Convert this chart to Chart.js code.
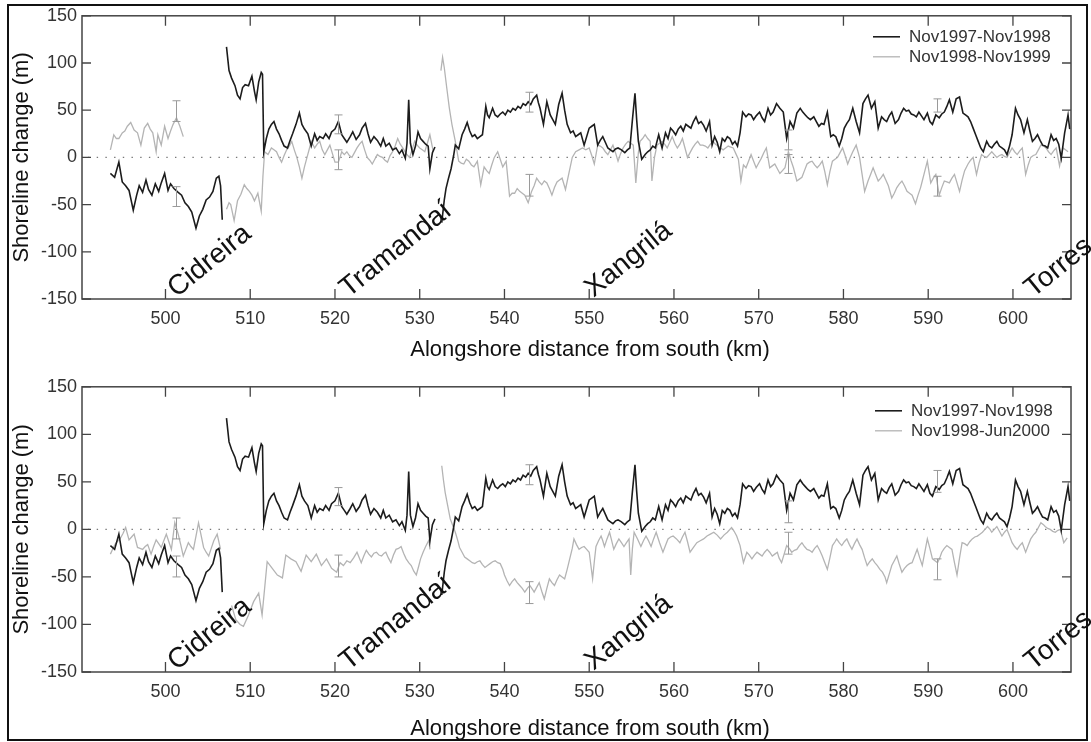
<!DOCTYPE html>
<html>
<head>
<meta charset="utf-8">
<script src="https://cdn.jsdelivr.net/npm/chart.js@4.4.1/dist/chart.umd.min.js"></script>
<style>
  html, body { margin: 0; padding: 0; background: #fff; }
  body { width: 1091px; height: 742px; position: relative; overflow: hidden; }
  #frame { position: absolute; left: 7px; top: 4px; width: 1081px; height: 737px;
           border: 2px solid #111; box-sizing: border-box; }
  canvas { position: absolute; left: 0; }
  #c1 { top: 0; }
  #c2 { top: 371px; }
</style>
</head>
<body>
<div id="frame"></div>
<canvas id="c1" width="1091" height="371"></canvas>
<canvas id="c2" width="1091" height="371"></canvas>
<script>
/* ========= Datos ========= */
const kmTicks = [500, 510, 520, 530, 540, 550, 560, 570, 580, 590, 600];
const yTicks = [-150, -100, -50, 0, 50, 100, 150];

const labelBlack = "Nov1997-Nov1998";
const labelGrayTop = "Nov1998-Nov1999";
const labelGrayBottom = "Nov1998-Jun2000";

const placeNames = ["Cidreira", "Tramandaí", "Xangrilá", "Torres"];
const placeKm = [501.3, 521.6, 550.5, 602.4];

// [km, cambio (m)] ; null = hueco
const nov97Nov98 = [
  [493.5,-17],[494.0,-21],[494.5,-5],[494.9,-26],[495.3,-30],[495.7,-35],[496.2,-56],[496.6,-40],
  [496.9,-30],[497.3,-37],[497.7,-24],[498.0,-34],[498.4,-40],[498.8,-28],[499.2,-36],[499.5,-27],
  [499.9,-17],[500.3,-35],[500.6,-28],[501.0,-33],[501.5,-37],[501.9,-40],[502.3,-48],[502.7,-52],
  [503.1,-58],[503.6,-75],[504.0,-62],[504.4,-55],[504.8,-45],[505.2,-42],[505.6,-36],[506.0,-22],
  [506.3,-20],[506.5,-30],[506.7,-66],[506.9,null],
  [507.2,117],[507.5,92],[507.8,84],[508.2,76],[508.5,66],[508.8,62],[509.1,74],[509.4,77],
  [509.8,76],[510.2,86],[510.5,70],[510.7,61],[511.0,80],[511.3,90],[511.45,88],[511.6,6],
  [511.9,20],[512.2,30],[512.5,35],[512.8,38],[513.1,30],[513.4,25],[513.7,18],[514.0,12],
  [514.4,10],[514.7,18],[515.0,25],[515.4,35],[515.8,47],[516.1,35],[516.4,30],[516.8,25],
  [517.2,12],[517.6,25],[517.9,18],[518.2,22],[518.6,20],[518.9,25],[519.3,20],[519.6,27],
  [520.0,30],[520.4,38],[520.8,24],[521.1,20],[521.4,16],[521.8,22],[522.1,27],[522.5,19],
  [522.9,24],[523.2,31],[523.6,36],[523.9,25],[524.2,16],[524.6,22],[525.0,18],[525.4,12],
  [525.7,20],[526.0,12],[526.4,15],[526.8,8],[527.2,10],[527.6,4],[527.9,8],[528.3,-1],
  [528.5,15],[528.7,61],[528.9,15],[529.2,3],[529.5,12],[529.8,27],[530.1,20],[530.4,17],
  [530.7,14],[531.0,12],[531.2,-12],[531.5,5],[531.8,11],[532.2,null],
  [532.6,-69],[532.9,-45],[533.1,-33],[533.4,-22],[533.7,-12],[534.0,2],[534.2,13],[534.6,9],
  [535.0,24],[535.3,30],[535.6,37],[535.9,28],[536.2,22],[536.5,24],[536.8,20],[537.1,22],
  [537.4,24],[537.8,54],[538.0,45],[538.2,42],[538.6,52],[538.9,45],[539.2,43],[539.5,46],
  [539.8,48],[540.1,45],[540.4,50],[540.7,48],[541.0,52],[541.3,50],[541.6,54],[541.9,52],
  [542.2,57],[542.5,55],[542.8,59],[543.1,56],[543.4,62],[543.8,66],[544.0,58],[544.2,52],
  [544.6,35],[545.0,59],[545.4,45],[545.7,40],[546.0,35],[546.4,56],[546.8,68],[547.1,50],
  [547.4,35],[547.8,26],[548.1,28],[548.4,22],[548.7,24],[549.0,26],[549.4,13],[549.7,22],
  [550.0,31],[550.3,33],[550.6,35],[551.0,13],[551.3,18],[551.6,22],[551.9,16],[552.2,10],
  [552.5,8],[552.8,6],[553.1,9],[553.4,10],[553.8,8],[554.2,5],[554.5,8],[554.8,10],
  [555.1,40],[555.4,68],[555.6,40],[555.8,17],[556.2,-2],[556.6,3],[556.9,6],[557.2,8],
  [557.5,12],[557.8,10],[558.2,24],[558.6,10],[559.0,26],[559.3,20],[559.6,31],[559.9,28],
  [560.2,24],[560.5,30],[560.8,33],[561.1,28],[561.4,35],[561.7,33],[562.0,31],[562.3,38],
  [562.6,43],[562.9,36],[563.2,38],[563.5,34],[563.8,28],[564.2,38],[564.5,13],[564.8,22],
  [565.1,16],[565.4,6],[565.7,20],[566.0,17],[566.3,22],[566.6,20],[566.9,14],[567.2,17],
  [567.5,12],[567.8,26],[568.1,48],[568.5,43],[568.8,46],[569.1,45],[569.4,40],[569.7,44],
  [570.1,48],[570.4,42],[570.7,38],[571.1,52],[571.4,45],[571.7,48],[572.1,57],[572.5,52],
  [572.9,48],[573.3,20],[573.7,38],[574.1,31],[574.5,47],[574.9,52],[575.2,48],[575.5,45],
  [575.8,42],[576.1,40],[576.5,43],[576.8,38],[577.1,33],[577.4,36],[577.7,35],[578.1,48],
  [578.5,22],[578.8,24],[579.1,22],[579.5,12],[579.8,20],[580.1,31],[580.4,36],[580.7,40],
  [581.1,52],[581.5,38],[581.9,26],[582.3,57],[582.6,62],[582.9,66],[583.3,52],[583.7,59],
  [584.1,31],[584.5,43],[584.8,40],[585.1,38],[585.4,44],[585.7,48],[586.1,36],[586.5,40],
  [586.8,47],[587.1,52],[587.4,49],[587.7,50],[588.0,46],[588.3,45],[588.6,43],[588.9,48],
  [589.2,44],[589.5,40],[589.9,47],[590.2,38],[590.5,35],[590.9,45],[591.3,42],[591.6,46],
  [591.9,48],[592.2,54],[592.5,61],[592.9,48],[593.1,55],[593.3,62],[593.7,64],[594.1,47],
  [594.4,45],[594.7,43],[595.0,38],[595.3,31],[595.6,24],[595.9,17],[596.2,10],[596.5,6],
  [596.9,17],[597.2,12],[597.5,10],[597.8,14],[598.1,17],[598.4,12],[598.7,10],[599.0,8],
  [599.3,3],[599.6,12],[599.9,24],[600.3,52],[600.6,45],[600.9,40],[601.3,26],[601.7,40],
  [602.0,28],[602.3,17],[602.6,20],[602.9,24],[603.2,18],[603.5,13],[603.8,12],[604.1,10],
  [604.5,24],[604.8,18],[605.1,20],[605.4,14],[605.7,-1],[606.1,26],[606.5,45],[606.7,30]
];

const nov98Nov99 = [
  [493.5,8],[493.9,24],[494.2,20],[494.5,20],[494.9,26],[495.2,28],[495.5,33],[495.9,37],
  [496.3,29],[496.7,26],[497.1,13],[497.5,31],[497.9,36],[498.2,30],[498.5,26],[498.9,6],
  [499.1,24],[499.5,13],[499.9,33],[500.3,20],[500.6,28],[500.9,35],[501.3,42],[501.7,33],
  [502.1,22],[502.5,null],
  [507.2,-55],[507.5,-48],[507.7,-50],[508.1,-67],[508.5,-46],[508.9,-39],[509.3,-29],[509.6,-33],
  [509.9,-36],[510.2,-40],[510.5,-46],[510.9,-38],[511.3,-57],[511.5,-20],[511.7,6],[512.1,3],
  [512.5,10],[512.8,8],[513.1,6],[513.4,0],[513.7,-5],[514.0,2],[514.3,8],[514.6,12],
  [514.9,17],[515.2,8],[515.5,0],[515.8,-10],[516.1,-22],[516.4,-10],[516.7,0],[517.0,10],
  [517.2,17],[517.6,10],[517.9,14],[518.2,17],[518.5,8],[518.8,3],[519.1,8],[519.4,13],
  [519.7,4],[520.0,-5],[520.4,-5],[520.8,6],[521.1,3],[521.4,6],[521.7,2],[522.0,0],
  [522.3,5],[522.6,10],[522.9,14],[523.2,17],[523.5,8],[523.8,0],[524.1,-3],[524.4,-7],
  [524.7,-2],[525.0,3],[525.3,1],[525.6,0],[525.9,-3],[526.2,-5],[526.5,2],[526.8,6],
  [527.1,12],[527.4,20],[527.7,14],[528.0,10],[528.4,4],[528.8,0],[529.1,8],[529.4,17],
  [529.7,13],[530.0,10],[530.3,8],[530.6,6],[530.9,15],[531.2,24],[531.6,6],[532.0,null],
  [532.5,92],[532.7,106],[532.9,95],[533.2,73],[533.5,52],[533.8,35],[534.2,17],[534.6,-4],
  [534.9,-6],[535.2,-7],[535.5,-2],[535.8,-4],[536.1,-8],[536.4,-10],[536.8,-4],[537.2,-29],
  [537.6,-10],[537.9,-14],[538.2,-17],[538.5,-8],[538.8,0],[539.2,6],[539.5,-2],[539.8,-10],
  [540.2,-4],[540.6,-41],[540.9,-38],[541.2,-38],[541.5,-33],[541.8,-36],[542.1,-38],[542.4,-40],
  [542.8,-48],[543.2,-36],[543.5,-30],[543.8,-22],[544.1,-26],[544.4,-29],[544.7,-25],[545.0,-27],
  [545.3,-33],[545.6,-40],[545.9,-32],[546.2,-26],[546.5,-24],[546.8,-22],[547.2,-34],[547.6,-17],
  [548.0,0],[548.4,6],[548.8,8],[549.2,10],[549.6,8],[550.0,10],[550.3,2],[550.6,-7],
  [551.0,13],[551.3,12],[551.6,10],[551.9,6],[552.2,3],[552.5,8],[552.8,13],[553.1,5],
  [553.4,-4],[553.7,4],[554.0,10],[554.3,14],[554.6,17],[554.9,15],[555.2,13],[555.5,-27],
  [555.8,5],[556.0,17],[556.3,20],[556.6,24],[556.9,20],[557.2,17],[557.4,-25],[557.7,0],
  [558.0,13],[558.3,15],[558.6,17],[558.9,14],[559.2,10],[559.5,16],[559.8,22],[560.1,15],
  [560.4,10],[560.7,14],[561.0,20],[561.3,10],[561.6,0],[561.9,5],[562.2,10],[562.5,14],
  [562.8,17],[563.1,13],[563.4,13],[563.7,12],[564.0,10],[564.3,14],[564.6,17],[564.9,14],
  [565.2,12],[565.5,10],[565.8,8],[566.1,10],[566.4,12],[566.7,11],[567.0,10],[567.3,4],
  [567.6,-2],[567.9,-25],[568.2,-8],[568.5,-11],[568.8,-4],[569.1,3],[569.4,-4],[569.7,-11],
  [570.0,-6],[570.3,-1],[570.6,5],[570.9,10],[571.3,-11],[571.6,-9],[571.9,-7],[572.2,-12],
  [572.5,-17],[572.8,-14],[573.1,-11],[573.5,6],[573.8,-3],[574.1,-11],[574.5,-25],[574.8,-23],
  [575.1,-21],[575.4,-14],[575.7,-7],[576.0,-5],[576.3,-4],[576.6,-8],[576.9,-11],[577.2,-8],
  [577.5,-4],[577.8,-15],[578.1,-29],[578.4,-15],[578.7,-4],[579.0,-2],[579.3,0],[579.6,5],
  [579.9,10],[580.2,2],[580.5,-7],[580.8,0],[581.1,6],[581.5,13],[581.9,0],[582.2,-18],
  [582.5,-36],[582.9,-25],[583.2,-18],[583.5,-11],[583.8,-18],[584.1,-25],[584.4,-22],[584.7,-18],
  [585.0,-24],[585.3,-30],[585.7,-43],[586.0,-38],[586.3,-32],[586.6,-28],[586.9,-25],[587.2,-30],
  [587.5,-36],[587.8,-38],[588.1,-40],[588.5,-49],[588.8,-40],[589.1,-32],[589.3,-25],[589.5,-18],
  [589.9,-4],[590.3,-27],[590.6,-22],[590.9,-18],[591.3,-40],[591.6,-32],[591.9,-25],[592.2,-26],
  [592.5,-27],[592.8,-22],[593.1,-18],[593.4,-27],[593.7,-36],[594.0,-24],[594.3,-14],[594.7,-7],
  [595.0,-3],[595.3,0],[595.7,-18],[596.0,-6],[596.3,3],[596.6,1],[596.9,0],[597.2,3],
  [597.5,6],[597.8,3],[598.1,0],[598.4,2],[598.7,3],[599.0,1],[599.3,0],[599.6,5],
  [599.9,10],[600.2,6],[600.5,3],[600.8,7],[601.1,10],[601.5,-18],[601.8,-8],[602.1,0],
  [602.4,2],[602.7,3],[603.0,8],[603.3,13],[603.6,12],[603.9,10],[604.2,6],[604.5,3],
  [604.8,7],[605.1,10],[605.5,-9],[605.9,10],[606.2,8],[606.5,6]
];

const nov98Jun00 = [
  [493.5,-26],[493.8,-20],[494.1,-15],[494.4,-12],[494.7,-9],[495.0,-4],[495.3,2],[495.7,-11],
  [496.0,-8],[496.3,-5],[496.7,-19],[497.0,-20],[497.3,-21],[497.6,-18],[497.9,-16],[498.3,-26],
  [498.6,-18],[498.9,-11],[499.2,-15],[499.5,-19],[499.8,-12],[500.1,-5],[500.4,-13],[500.7,-21],
  [501.1,7],[501.5,-5],[501.8,-16],[502.1,-28],[502.4,-21],[502.7,-14],[503.0,-18],[503.3,-21],
  [503.6,-7],[503.9,7],[504.2,-6],[504.5,-19],[504.8,-24],[505.1,-28],[505.4,-20],[505.7,-12],
  [506.1,-5],[506.5,-21],[507.0,null],
  [507.8,-80],[508.3,-95],[508.8,-100],[509.2,-102],[509.8,-90],[510.4,-76],[511.0,-67],[511.4,-90],
  [512.0,-34],[512.6,-41],[513.2,-48],[513.8,-51],[514.2,-27],[514.8,-31],[515.4,-34],[516.0,-44],
  [516.6,-27],[517.2,-34],[517.8,-26],[518.4,-38],[519.0,-31],[519.6,-41],[520.2,-45],[520.6,-35],
  [521.0,-38],[521.4,-33],[521.8,-35],[522.2,-30],[522.6,-24],[523.1,-35],[523.4,-28],[523.7,-22],
  [524.0,-26],[524.3,-29],[524.6,-25],[524.9,-24],[525.2,-27],[525.5,-28],[525.8,-25],[526.0,-24],
  [526.3,-30],[526.6,-35],[526.9,-27],[527.2,-21],[527.5,-20],[527.8,-18],[528.1,-25],[528.4,-31],
  [528.7,-35],[529.0,-38],[529.3,-44],[529.6,-48],[529.9,-38],[530.1,-31],[530.4,-24],[530.7,-18],
  [531.1,-11],[531.2,-21],[531.8,null],
  [532.6,67],[532.8,52],[533.0,39],[533.3,25],[533.6,11],[533.9,4],[534.2,-3],[534.5,-12],
  [534.7,-19],[535.0,-24],[535.3,-29],[535.6,-31],[535.9,-33],[536.2,-35],[536.5,-36],[536.8,-34],
  [537.1,-33],[537.4,-37],[537.7,-40],[538.0,-38],[538.3,-36],[538.6,-34],[538.9,-33],[539.2,-35],
  [539.5,-36],[539.8,-42],[540.0,-48],[540.3,-54],[540.6,-59],[540.9,-55],[541.2,-52],[541.5,-56],
  [541.8,-59],[542.1,-62],[542.4,-66],[542.7,-62],[543.0,-59],[543.3,-63],[543.5,-66],[543.8,-61],
  [544.1,-56],[544.4,-65],[544.7,-73],[545.0,-62],[545.3,-52],[545.6,-56],[545.9,-59],[546.2,-53],
  [546.5,-48],[546.8,-50],[547.1,-52],[547.4,-42],[547.7,-31],[548.0,-20],[548.2,-10],[548.5,-16],
  [548.8,-21],[549.1,-19],[549.4,-18],[549.7,-21],[550.0,-24],[550.2,-38],[550.4,-52],[550.6,-34],
  [550.8,-18],[551.1,-12],[551.4,-7],[551.6,-12],[551.8,-18],[552.1,-10],[552.4,-3],[552.6,-10],
  [552.9,-21],[553.2,-15],[553.5,-10],[553.8,-14],[554.1,-18],[554.4,-14],[554.7,-10],[554.9,-48],
  [555.1,-20],[555.3,-3],[555.7,-10],[556.1,-18],[556.4,-12],[556.7,-7],[557.0,-12],[557.3,-18],
  [557.6,-10],[557.9,-3],[558.3,-14],[558.7,-24],[559.0,-17],[559.3,-10],[559.6,-8],[559.9,-7],
  [560.3,-10],[560.7,-14],[561.0,-8],[561.3,-3],[561.6,-13],[561.9,-24],[562.3,-19],[562.7,-14],
  [563.1,-12],[563.5,-10],[563.9,-7],[564.3,-5],[564.7,-3],[565.1,-6],[565.5,-10],[565.9,-6],
  [566.3,-3],[566.8,2],[567.1,-2],[567.4,-7],[567.8,-17],[568.2,-35],[568.6,-24],[568.9,-27],
  [569.2,-31],[569.5,-27],[569.8,-24],[570.1,-26],[570.4,-28],[570.7,-24],[571.0,-21],[571.3,-24],
  [571.6,-28],[571.9,-26],[572.2,-24],[572.4,-30],[572.7,-35],[573.0,-26],[573.3,-17],[573.6,-20],
  [573.9,-24],[574.2,-22],[574.5,-21],[574.8,-17],[575.1,-14],[575.4,-18],[575.7,-21],[576.0,-22],
  [576.3,-24],[576.6,-20],[576.9,-17],[577.2,-22],[577.5,-28],[577.8,-35],[578.1,-42],[578.4,-30],
  [578.7,-17],[579.0,-13],[579.2,-10],[579.5,-14],[579.8,-17],[580.1,-13],[580.4,-10],[580.7,-16],
  [581.0,-21],[581.3,-15],[581.6,-10],[581.9,-16],[582.2,-21],[582.5,-30],[582.8,-38],[583.1,-34],
  [583.4,-31],[583.7,-35],[584.0,-38],[584.3,-42],[584.6,-45],[584.9,-50],[585.1,-56],[585.4,-47],
  [585.7,-38],[586.0,-33],[586.3,-28],[586.6,-37],[586.9,-45],[587.2,-41],[587.5,-38],[587.8,-36],
  [588.1,-35],[588.4,-28],[588.7,-21],[589.0,-30],[589.3,-38],[589.6,-24],[589.9,-10],[590.2,-20],
  [590.5,-31],[590.8,-33],[591.1,-35],[591.4,-29],[591.6,-24],[591.9,-20],[592.2,-17],[592.5,-19],
  [592.8,-21],[593.1,-35],[593.4,-48],[593.7,-30],[594.0,-14],[594.3,-15],[594.6,-17],[594.9,-13],
  [595.2,-10],[595.5,-8],[595.8,-7],[596.1,-5],[596.4,-3],[596.7,0],[597.0,3],[597.3,0],
  [597.5,-3],[597.8,0],[598.1,3],[598.4,-2],[598.7,-7],[599.0,-3],[599.3,0],[599.6,-7],
  [599.9,-14],[600.2,-18],[600.5,-21],[600.8,-17],[601.1,-14],[601.5,-24],[601.8,-17],[602.1,-10],
  [602.4,-6],[602.7,-3],[603.0,2],[603.3,7],[603.6,5],[603.8,3],[604.1,1],[604.4,0],
  [604.7,-2],[605.0,-3],[605.3,-1],[605.6,0],[606.0,-14],[606.4,-9]
];

// barras de error: [km, min, max]
const errTopBlack = [[501.2,-52,-31],[520.3,25,45],[542.9,48,69],[573.4,8,29],[591.0,48,62]];
const errTopGray = [[501.2,38,60],[520.3,-13,8],[542.9,-41,-18],[573.4,-17,3],[591.0,-41,-20]];
const errBotBlack = [[501.2,-50,-28],[520.3,25,44],[542.9,47,68],[573.4,7,30],[591.0,39,62]];
const errBotGray = [[501.2,-10,12],[520.3,-50,-27],[542.9,-78,-55],[573.4,-26,-3],[591.0,-53,-31]];

/* ========= Helpers ========= */
const toXY = (arr) => arr.map(([x, y]) => ({ x, y }));
const SANS = '"Liberation Sans", Arial, sans-serif';

/* ========= Plugin de adornos ========= */
const panelDecor = {
  id: "panelDecor",
  beforeDatasetsDraw(chart, args, o) {
    const { ctx, chartArea: a, scales: { y } } = chart;
    const y0 = y.getPixelForValue(0);
    ctx.save();
    ctx.strokeStyle = "#777";
    ctx.lineWidth = 1.4;
    ctx.setLineDash([1.4, 7.3]);
    ctx.beginPath();
    ctx.moveTo(a.left + 6, y0);
    ctx.lineTo(a.right, y0);
    ctx.stroke();
    ctx.restore();
  },
  afterDatasetsDraw(chart, args, o) {
    const { ctx, scales: { x, y } } = chart;
    ctx.save();
    ctx.strokeStyle = "#9a9a9a";
    ctx.lineWidth = 1;
    o.errors.forEach(([km, lo, hi]) => {
      const px = Math.round(x.getPixelForValue(km)) + 0.5;
      const y1 = y.getPixelForValue(lo);
      const y2 = y.getPixelForValue(hi);
      ctx.beginPath();
      ctx.moveTo(px, y1); ctx.lineTo(px, y2);
      ctx.moveTo(px - 4, y1); ctx.lineTo(px + 4, y1);
      ctx.moveTo(px - 4, y2); ctx.lineTo(px + 4, y2);
      ctx.stroke();
    });
    ctx.restore();
  },
  afterDraw(chart, args, o) {
    const { ctx, chartArea: a, scales: { x, y } } = chart;
    ctx.save();

    // marco de ejes
    ctx.strokeStyle = "#444";
    ctx.lineWidth = 1.5;
    ctx.strokeRect(a.left, a.top, a.right - a.left, a.bottom - a.top);

    // ticks hacia dentro
    ctx.lineWidth = 1.3;
    ctx.beginPath();
    kmTicks.forEach((v) => {
      const px = x.getPixelForValue(v);
      ctx.moveTo(px, a.bottom); ctx.lineTo(px, a.bottom - 10);
      ctx.moveTo(px, a.top); ctx.lineTo(px, a.top + 10);
    });
    yTicks.forEach((v) => {
      const py = y.getPixelForValue(v);
      ctx.moveTo(a.left, py); ctx.lineTo(a.left + 9, py);
      ctx.moveTo(a.right, py); ctx.lineTo(a.right - 9, py);
    });
    ctx.stroke();

    // títulos de ejes
    ctx.fillStyle = "#111";
    ctx.font = "22px " + SANS;
    ctx.textAlign = "center";
    ctx.textBaseline = "middle";
    ctx.fillText("Alongshore distance from south (km)", 590, a.bottom + o.xTitleGap);
    ctx.save();
    ctx.translate(22, (a.top + a.bottom) / 2);
    ctx.rotate(-Math.PI / 2);
    ctx.fillText("Shoreline change (m)", 0, 0);
    ctx.restore();

    // leyenda
    ctx.font = "17px " + SANS;
    ctx.textAlign = "left";
    chart.data.datasets.forEach((ds, i) => {
      const ly = a.top + o.legendTop + i * 20;
      ctx.strokeStyle = ds.borderColor;
      ctx.lineWidth = ds.borderWidth;
      ctx.beginPath();
      ctx.moveTo(o.legendX, ly);
      ctx.lineTo(o.legendX + 27, ly);
      ctx.stroke();
      ctx.fillStyle = "#333";
      ctx.fillText(ds.label, o.legendX + 36, ly + 1);
    });

    // localidades
    ctx.fillStyle = "#111";
    ctx.font = "28px " + SANS;
    ctx.textBaseline = "alphabetic";
    placeNames.forEach((name, i) => {
      ctx.save();
      ctx.translate(x.getPixelForValue(placeKm[i]), a.bottom - 1);
      ctx.rotate(-39 * Math.PI / 180);
      ctx.fillText(name, 0, 0);
      ctx.restore();
    });

    ctx.restore();
  },
};

/* ========= Charts ========= */
function makePanel(id, grayData, grayLabel, errors, bottomPx, deco) {
  const canvas = document.getElementById(id);
  return new Chart(canvas.getContext("2d"), {
    type: "line",
    data: {
      datasets: [
        {
          label: labelBlack,
          data: toXY(nov97Nov98),
          borderColor: "#1c1c1c",
          borderWidth: 1.6,
          pointRadius: 0,
          tension: 0,
          spanGaps: false,
          order: 1,
        },
        {
          label: grayLabel,
          data: toXY(grayData),
          borderColor: "#b4b4b4",
          borderWidth: 1.3,
          pointRadius: 0,
          tension: 0,
          spanGaps: false,
          order: 2,
        },
      ],
    },
    options: {
      responsive: false,
      animation: false,
      layout: { padding: { top: 14, left: 0, right: 20, bottom: 0 } },
      plugins: {
        legend: { display: false },
        tooltip: { enabled: false },
        panelDecor: Object.assign({ errors }, deco),
      },
      scales: {
        x: {
          type: "linear",
          min: 490.15,
          max: 606.85,
          grid: { display: false, drawTicks: false },
          border: { display: false },
          afterBuildTicks: (s) => { s.ticks = kmTicks.map((v) => ({ value: v })); },
          afterFit: (s) => { s.height = 371 - bottomPx; },
          ticks: { padding: 9, color: "#333", font: { family: SANS, size: 18 }, maxRotation: 0 },
        },
        y: {
          min: -150,
          max: 150,
          grid: { display: false, drawTicks: false },
          border: { display: false },
          afterBuildTicks: (s) => { s.ticks = yTicks.map((v) => ({ value: v })); },
          afterFit: (s) => { s.width = 82; },
          ticks: { padding: 5, color: "#333", font: { family: SANS, size: 18 } },
        },
      },
    },
    plugins: [panelDecor],
  });
}

makePanel("c1", nov98Nov99, labelGrayTop, errTopBlack.concat(errTopGray), 299,
  { xTitleGap: 51, legendTop: 21, legendX: 873 });
makePanel("c2", nov98Jun00, labelGrayBottom, errBotBlack.concat(errBotGray), 301,
  { xTitleGap: 57, legendTop: 24, legendX: 875 });
</script>
</body>
</html>
